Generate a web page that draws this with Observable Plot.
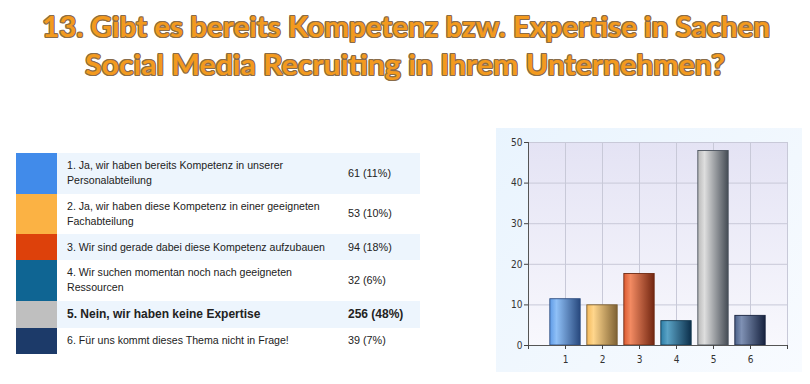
<!DOCTYPE html>
<html><head><meta charset="utf-8">
<script src="https://cdn.jsdelivr.net/npm/d3@7"></script>
<script src="https://cdn.jsdelivr.net/npm/@observablehq/plot@0.6"></script>
<style>
html,body{margin:0;padding:0;background:#fff;width:810px;height:384px;overflow:hidden;position:relative;}
.title{position:absolute;left:0;white-space:nowrap;font-family:Lato,sans-serif;font-weight:700;font-size:28.5px;line-height:37px;color:#f39a1e;
text-shadow:-1px 0 #8a6c48,1px 0 #8a6c48,0 -1px #8a6c48,0 1px #8a6c48,-0.8px -0.8px #8a6c48,0.8px 0.8px #8a6c48,-0.8px 0.8px #8a6c48,0.8px -0.8px #8a6c48;transform-origin:0 0;}
#table{position:absolute;left:16px;top:153px;width:404px;font-family:"Liberation Sans",Arial,sans-serif;color:#222;}
.row{position:relative;display:flex;align-items:center;box-sizing:border-box;}
.sw{position:absolute;left:0;top:0;bottom:0;width:41px;}
.lab{position:absolute;left:51px;font-size:10.6px;line-height:15px;white-space:pre;}
.val{position:absolute;left:332px;font-size:10.8px;line-height:15px;white-space:pre;}
.bold .lab,.bold .val{font-weight:700;font-size:12px;}
#panel{position:absolute;left:496px;top:128px;width:306px;height:244px;background:linear-gradient(135deg,#e9f4fe 0%,#f2f8fe 60%,#f8fbff 100%);}
</style></head>
<body>
<div id="t1" class="title"></div>
<div id="t2" class="title"></div>
<div id="table"></div>
<div id="panel"></div>
<script>
// ---- data ----
const titleLines = ["13. Gibt es bereits Kompetenz bzw. Expertise in Sachen", "Social Media Recruiting in Ihrem Unternehmen?"];
const categories = [1, 2, 3, 4, 5, 6];
const answers = [
  "1. Ja, wir haben bereits Kompetenz in unserer\nPersonalabteilung",
  "2. Ja, wir haben diese Kompetenz in einer geeigneten\nFachabteilung",
  "3. Wir sind gerade dabei diese Kompetenz aufzubauen",
  "4. Wir suchen momentan noch nach geeigneten\nRessourcen",
  "5. Nein, wir haben keine Expertise",
  "6. Für uns kommt dieses Thema nicht in Frage!"
];
const counts = [61, 53, 94, 32, 256, 39];
const countLabels = ["61 (11%)", "53 (10%)", "94 (18%)", "32 (6%)", "256 (48%)", "39 (7%)"];
const percents = [11.4, 9.9, 17.6, 6.0, 47.9, 7.3];
const swatchColors = ["#418bea", "#fbb244", "#dd410b", "#0f6593", "#bfbfbf", "#1c3a69"];
// bar gradients: [left, highlight, right]
const barGradients = [
  ["#5f9be6", "#8fc0f7", "#27487d"],
  ["#f3b95c", "#ffd68c", "#7f6234"],
  ["#dc5a30", "#f28a62", "#722611"],
  ["#2c7da6", "#5aa3c6", "#0c2f4b"],
  ["#b9b9b9", "#dedede", "#454c55"],
  ["#4b6189", "#7f91b4", "#16223f"]
];
const barStrokes = ["#2d4d80", "#7a5e30", "#6e2a12", "#123850", "#4a525c", "#18233f"];
const yTicks = [0, 10, 20, 30, 40, 50];
const xTicks = [0, 1, 2, 3, 4, 5, 6, 7];

// ---- title ----
const targets = [[42, 728, 8.2], [85, 640, 45.5]];
titleLines.forEach((t, i) => {
  const el = document.getElementById("t" + (i + 1));
  el.textContent = t;
  const w = el.getBoundingClientRect().width;
  const [x, tw, top] = targets[i];
  el.style.left = x + "px";
  el.style.top = top + "px";
  el.style.transform = `scaleX(${tw / w})`;
});

// ---- table ----
const table = d3.select("#table");
answers.forEach((a, i) => {
  const twoLine = a.includes("\n");
  const row = table.append("div").attr("class", "row" + (i === 4 ? " bold" : ""))
    .style("height", (twoLine ? 40.5 : (i === 4 ? 27 : 26)) + "px")
    .style("background", i % 2 === 0 ? "#edf5fd" : "#ffffff");
  row.append("div").attr("class", "sw").style("background", swatchColors[i]);
  row.append("div").attr("class", "lab").text(a);
  row.append("div").attr("class", "val").text(countLabels[i]);
});

// ---- chart ----
const data = categories.map((c, i) => ({cat: c, value: percents[i], count: counts[i]}));
const chart = Plot.plot({
  width: 306,
  height: 244,
  marginLeft: 32,
  marginTop: 14,
  marginRight: 15,
  marginBottom: 27,
  style: {background: "transparent", fontFamily: "'Liberation Sans Narrow','DejaVu Sans Condensed',sans-serif", fontSize: "10px", color: "#333"},
  x: {type: "linear", domain: [0, 7], label: null},
  y: {domain: [0, 50], label: null},
  color: {type: "ordinal", domain: categories, range: categories.map(c => `url(#bar${c})`)},
  marks: [
    Plot.frame({fill: "#ecebf7", stroke: "none"}),
    Plot.gridY(yTicks.slice(1), {stroke: "#c8c9d8", strokeOpacity: 1}),
    Plot.gridX(xTicks.slice(1), {stroke: "#c8c9d8", strokeOpacity: 1}),
    Plot.rectY(data, {x1: d => d.cat - 0.41, x2: d => d.cat + 0.41, y: "value", fill: "cat", stroke: (d, i) => barStrokes[i], strokeWidth: 0.9}),
    Plot.ruleY([0], {stroke: "#555"}),
    Plot.ruleX([0], {stroke: "#555"}),
    Plot.axisY(yTicks, {tickSize: 4, tickPadding: 2, stroke: "#444", fill: "#333", label: null}),
    Plot.axisX(xTicks, {tickSize: 4, tickPadding: 6, stroke: "#444", fill: "#333", label: null, tickFormat: d => (d >= 1 && d <= 6) ? String(d) : ""})
  ]
});
const svg = d3.select(chart);
const defs = svg.insert("defs", ":first-child");
barGradients.forEach((g, i) => {
  const lg = defs.append("linearGradient").attr("id", `bar${categories[i]}`).attr("x1", 0).attr("x2", 1).attr("y1", 0).attr("y2", 0);
  lg.append("stop").attr("offset", "0%").attr("stop-color", g[0]);
  lg.append("stop").attr("offset", "22%").attr("stop-color", g[1]);
  lg.append("stop").attr("offset", "100%").attr("stop-color", g[2]);
});
const bg = defs.append("linearGradient").attr("id", "plotbg").attr("x1", 0).attr("x2", 0).attr("y1", 0).attr("y2", 1);
bg.append("stop").attr("offset", "0%").attr("stop-color", "#e4e3f4");
bg.append("stop").attr("offset", "100%").attr("stop-color", "#f8f8fd");
svg.select("rect[fill='#ecebf7'], g[aria-label='frame'] rect").attr("fill", "url(#plotbg)");
svg.selectAll("g[aria-label='frame']").attr("fill", "url(#plotbg)");
document.getElementById("panel").appendChild(chart);
</script>
</body></html>
